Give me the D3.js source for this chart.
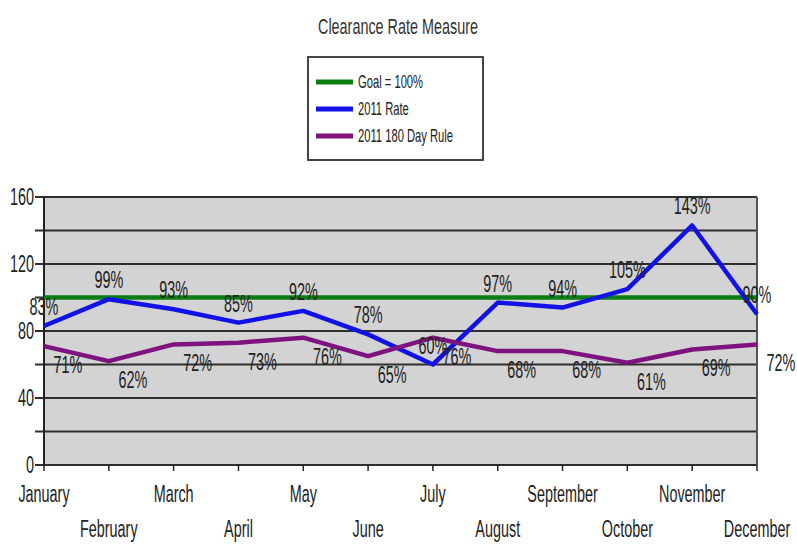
<!DOCTYPE html>
<html>
<head>
<meta charset="utf-8">
<script src="https://cdn.jsdelivr.net/npm/d3@7"></script>
<style>
  html, body { margin: 0; padding: 0; background: #fff; }
  svg { display: block; }
  text { font-family: "Liberation Sans", Arial, sans-serif; fill: #222; }
</style>
</head>
<body>
<svg id="chart" width="797" height="545"></svg>
<script>
// Monthly clearance data, 2011
const months = ["January", "February", "March", "April", "May", "June",
                "July", "August", "September", "October", "November", "December"];
const rate2011 = [83, 99, 93, 85, 92, 78, 60, 97, 94, 105, 143, 90];
const rule180 = [71, 62, 72, 73, 76, 65, 76, 68, 68, 61, 69, 72];
const goal = [100, 100, 100, 100, 100, 100, 100, 100, 100, 100, 100, 100];
const yTicks = [0, 20, 40, 60, 80, 100, 120, 140, 160];
const yTickLabels = [0, 40, 80, 120, 160];

const seriesInfo = [
  { name: "Goal = 100%", values: goal, color: "#0b7d12", labels: false },
  { name: "2011 Rate", values: rate2011, color: "#1212e6", labels: true, dx: 0, dy: -11 },
  { name: "2011 180 Day Rule", values: rule180, color: "#7e127e", labels: true, dx: 24, dy: 27 }
];

const svg = d3.select("#chart");
const plot = { left: 44, right: 757, top: 197, bottom: 465 };

const x = d3.scalePoint().domain(months).range([plot.left, plot.right]);
const y = d3.scaleLinear().domain([0, 160]).range([plot.bottom, plot.top]);

// narrow, vertically stretched text
function label(parent, px, py, str, size, anchor, sy) {
  const g = parent.append("g")
    .attr("transform", `translate(${px},${py}) scale(0.8,${sy || 1.3})`);
  g.append("text")
    .attr("text-anchor", anchor || "middle")
    .attr("font-size", size)
    .text(str);
  return g;
}

// Title
label(svg, 398, 34, "Clearance Rate Measure", 18, "middle", 1.2).select("text").style("fill", "#333");

// Legend
const legend = svg.append("g");
legend.append("rect")
  .attr("x", 308).attr("y", 57).attr("width", 175).attr("height", 103)
  .attr("fill", "#fff").attr("stroke", "#444").attr("stroke-width", 2);
seriesInfo.forEach((s, i) => {
  const ly = 82 + i * 27;
  legend.append("line")
    .attr("x1", 316).attr("x2", 353).attr("y1", ly).attr("y2", ly)
    .attr("stroke", s.color).attr("stroke-width", 5);
  label(legend, 358, ly + 6, s.name, 14, "start", 1.3);
});

// Plot background
svg.append("rect")
  .attr("x", plot.left).attr("y", plot.top)
  .attr("width", plot.right - plot.left).attr("height", plot.bottom - plot.top)
  .attr("fill", "#d3d3d3");

// Horizontal gridlines with ticks extending left of the axis
const grid = svg.append("g");
yTicks.forEach(t => {
  grid.append("line")
    .attr("x1", plot.left - 9).attr("x2", plot.right)
    .attr("y1", y(t)).attr("y2", y(t))
    .attr("stroke", "#2e2e2e").attr("stroke-width", 2);
});

// Frame
svg.append("line").attr("x1", plot.right).attr("x2", plot.right)
  .attr("y1", plot.top).attr("y2", plot.bottom)
  .attr("stroke", "#555").attr("stroke-width", 2);
svg.append("line").attr("x1", plot.left).attr("x2", plot.left)
  .attr("y1", plot.top).attr("y2", plot.bottom + 1)
  .attr("stroke", "#222").attr("stroke-width", 2);

// X-axis tick marks
months.forEach(m => {
  svg.append("line")
    .attr("x1", x(m)).attr("x2", x(m))
    .attr("y1", plot.bottom).attr("y2", plot.bottom + 6)
    .attr("stroke", "#222").attr("stroke-width", 1.5);
});

// Y-axis labels
yTickLabels.forEach(t => {
  label(svg, 34, y(t) + 8, String(t), 18, "end");
});

// X-axis labels, staggered in two rows
months.forEach((m, i) => {
  label(svg, x(m), i % 2 === 0 ? 502 : 537, m, 18, "middle");
});

// Series lines
const line = d3.line().x((d, i) => x(months[i])).y(d => y(d));
seriesInfo.forEach(s => {
  svg.append("path")
    .datum(s.values)
    .attr("d", line)
    .attr("fill", "none")
    .attr("stroke", s.color)
    .attr("stroke-width", 4.5)
    .attr("stroke-linejoin", "round");
});

// Value labels
seriesInfo.filter(s => s.labels).forEach(s => {
  s.values.forEach((v, i) => {
    label(svg, x(months[i]) + s.dx, y(v) + s.dy, v + "%", 18, "middle");
  });
});
</script>
</body>
</html>
